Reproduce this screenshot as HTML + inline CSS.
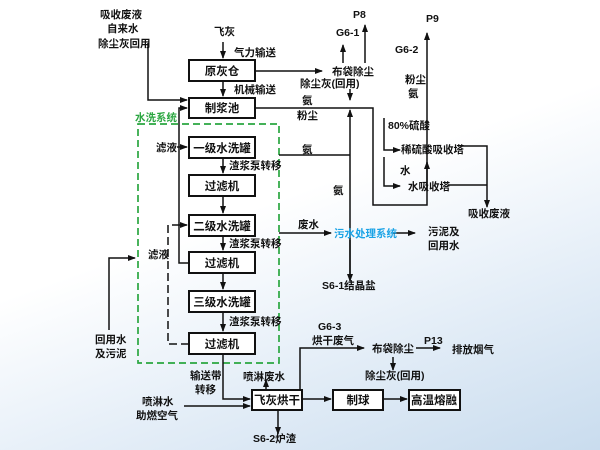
<!DOCTYPE html>
<html><head><meta charset="utf-8"><style>
html,body{margin:0;padding:0;}
body{width:600px;height:450px;overflow:hidden;background:linear-gradient(160deg,#ffffff 0%,#ffffff 45%,#e6eff8 70%,#c9dcee 100%);}
svg{display:block;}
text{font-family:"Liberation Sans","Noto Sans CJK SC",sans-serif;font-weight:bold;font-size:10.5px;fill:#111;}
.b{font-size:11.5px;text-anchor:middle;}
</style></head><body>
<svg width="600" height="450" viewBox="0 0 600 450" xmlns="http://www.w3.org/2000/svg">
<defs><marker id="a" markerWidth="8" markerHeight="8" refX="7" refY="4" orient="auto" markerUnits="userSpaceOnUse"><path d="M0,1 L8,4 L0,7 z" fill="#111"/></marker></defs>
<g stroke="#111" stroke-width="2" fill="none">
<rect x="189" y="60" width="66" height="21" fill="#fff"/>
<rect x="189" y="98" width="66" height="20" fill="#fff"/>
<rect x="189" y="137" width="66" height="21" fill="#fff"/>
<rect x="189" y="175" width="66" height="21" fill="#fff"/>
<rect x="189" y="215" width="66" height="21" fill="#fff"/>
<rect x="189" y="252" width="66" height="21" fill="#fff"/>
<rect x="189" y="291" width="66" height="21" fill="#fff"/>
<rect x="189" y="333" width="66" height="21" fill="#fff"/>
<rect x="252" y="390" width="50" height="20" fill="#fff"/>
<rect x="333" y="390" width="50" height="20" fill="#fff"/>
<rect x="409" y="390" width="51" height="20" fill="#fff"/>
</g>
<rect x="138" y="124" width="141" height="239" fill="none" stroke="#2aa640" stroke-width="1.7" stroke-dasharray="7,4"/>
<g stroke="#111" stroke-width="1.5" fill="none">
<path d="M223,42 V58" marker-end="url(#a)"/>
<path d="M223,81 V96" marker-end="url(#a)"/>
<path d="M148,43 V100 H187" marker-end="url(#a)"/>
<path d="M255,71 H322" marker-end="url(#a)"/>
<path d="M343,63 V45" marker-end="url(#a)"/>
<path d="M365,63 V25" marker-end="url(#a)"/>
<path d="M350,89 V100" marker-end="url(#a)"/>
<path d="M255,108 H373 V205 H427 V33" marker-end="url(#a)"/>
<path d="M427,190 V162" marker-end="url(#a)"/>
<path d="M350,275 V110" marker-end="url(#a)"/>
<path d="M350,240 V281" marker-end="url(#a)"/>
<path d="M279,155 H350"/>
<path d="M279,233 H331" marker-end="url(#a)"/>
<path d="M393,233 H415" marker-end="url(#a)"/>
<path d="M384,118 V150 H400" marker-end="url(#a)"/>
<path d="M384,157 V186 H400" marker-end="url(#a)"/>
<path d="M460,146 H487 V207" marker-end="url(#a)"/>
<path d="M448,185 H487"/>
<path d="M177,147 H187" marker-end="url(#a)"/>
<path d="M223,158 V173" marker-end="url(#a)"/>
<path d="M223,196 V213" marker-end="url(#a)"/>
<path d="M223,236 V250" marker-end="url(#a)"/>
<path d="M223,273 V289" marker-end="url(#a)"/>
<path d="M223,312 V331" marker-end="url(#a)"/>
<path d="M189,263 H179 V108 H187" marker-end="url(#a)"/>
<path d="M109,330 V258 H135" marker-end="url(#a)"/>
<path d="M223,354 V399 H250" marker-end="url(#a)"/>
<path d="M184,406 H250" marker-end="url(#a)"/>
<path d="M266,390 V380" marker-end="url(#a)"/>
<path d="M278,410 V434" marker-end="url(#a)"/>
<path d="M302,399 H331" marker-end="url(#a)"/>
<path d="M383,399 H407" marker-end="url(#a)"/>
<path d="M300,390 V348 H364" marker-end="url(#a)"/>
<path d="M393,357 V370" marker-end="url(#a)"/>
<path d="M416,348 H440" marker-end="url(#a)"/>
</g>
<g stroke="#111" stroke-width="1.5" fill="none" stroke-dasharray="8,4">
<path d="M189,344 H168 V225 H187" marker-end="url(#a)"/>
</g>
<text class="b" x="222" y="75">原灰仓</text>
<text class="b" x="222" y="112">制浆池</text>
<text class="b" x="222" y="152">一级水洗罐</text>
<text class="b" x="222" y="190">过滤机</text>
<text class="b" x="222" y="230">二级水洗罐</text>
<text class="b" x="222" y="267">过滤机</text>
<text class="b" x="222" y="306">三级水洗罐</text>
<text class="b" x="222" y="348">过滤机</text>
<text class="b" x="277" y="404">飞灰烘干</text>
<text class="b" x="358" y="404">制球</text>
<text class="b" x="434" y="404">高温熔融</text>
<text x="100" y="18">吸收废液</text>
<text x="107" y="32">自来水</text>
<text x="98" y="47">除尘灰回用</text>
<text x="214" y="35">飞灰</text>
<text x="234" y="56">气力输送</text>
<text x="234" y="93">机械输送</text>
<text x="332" y="75">布袋除尘</text>
<text x="300" y="87">除尘灰(回用)</text>
<text x="336" y="36">G6-1</text>
<text x="353" y="18">P8</text>
<text x="426" y="22">P9</text>
<text x="395" y="53">G6-2</text>
<text x="405" y="83">粉尘</text>
<text x="408" y="97">氨</text>
<text x="388" y="129">80%硫酸</text>
<text x="401" y="153">稀硫酸吸收塔</text>
<text x="400" y="174">水</text>
<text x="408" y="190">水吸收塔</text>
<text x="468" y="217">吸收废液</text>
<text x="302" y="104">氨</text>
<text x="297" y="119">粉尘</text>
<text x="302" y="153">氨</text>
<text x="333" y="194">氨</text>
<text x="298" y="228">废水</text>
<text x="334" y="237" style="fill:#1aa3e6">污水处理系统</text>
<text x="428" y="235">污泥及</text>
<text x="428" y="249">回用水</text>
<text x="322" y="289">S6-1结晶盐</text>
<text x="135" y="121" style="fill:#2aa640">水洗系统</text>
<text x="156" y="151">滤液</text>
<text x="229" y="169">渣浆泵转移</text>
<text x="229" y="247">渣浆泵转移</text>
<text x="229" y="325">渣浆泵转移</text>
<text x="148" y="258">滤液</text>
<text x="95" y="343">回用水</text>
<text x="95" y="357">及污泥</text>
<text x="190" y="379">输送带</text>
<text x="195" y="393">转移</text>
<text x="142" y="405">喷淋水</text>
<text x="136" y="419">助燃空气</text>
<text x="243" y="380">喷淋废水</text>
<text x="253" y="442">S6-2炉渣</text>
<text x="318" y="330">G6-3</text>
<text x="312" y="344">烘干废气</text>
<text x="372" y="352">布袋除尘</text>
<text x="365" y="379">除尘灰(回用)</text>
<text x="424" y="344">P13</text>
<text x="452" y="353">排放烟气</text>
</svg>
</body></html>
